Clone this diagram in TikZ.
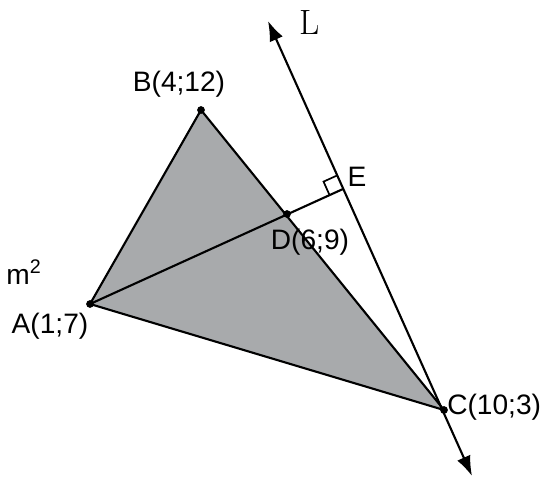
\documentclass[tikz,border=0pt]{standalone}
\usepackage{fontspec}
\setsansfont{Liberation Sans}
\usepackage{xcolor}
\usetikzlibrary{arrows.meta,calc}
\definecolor{shade}{RGB}{168,170,172}

\begin{document}
\begin{tikzpicture}[
  x=0.025cm, y=-0.025cm,
  side/.style={line width=1.5pt, draw=black, line join=round},
  axis/.style={line width=1.5pt, {Latex[length=5mm,width=3.6mm]}-{Latex[length=5mm,width=3.6mm]}},
  dot/.style={circle, fill=black, inner sep=0pt, minimum size=5.5pt},
  lbl/.style={font=\sffamily\fontsize{20}{24}\selectfont, inner sep=0pt}
]
\useasboundingbox (0,0) rectangle (544,478);
\coordinate (A) at (90,304);
\coordinate (B) at (201,110);
\coordinate (C) at (444,410);
\coordinate (D) at (287,214);
\coordinate (E) at (343,189);
\coordinate (Ltop) at (268,21);
\coordinate (Lbot) at (472,476);

\filldraw[fill=shade, side] (A) -- (B) -- (C) -- cycle;
\draw[side] (A) -- (E);
\draw[axis] (Ltop) -- (Lbot);

% right angle at E
\coordinate (E1) at ($(E)!10.5pt!(Ltop)$);
\coordinate (E2) at ($(E)!10.5pt!(A)$);
\draw[line width=1.2pt] (E1) -- ($(E1)+(E2)-(E)$) -- (E2);

\node[dot] (dA) at (A) {};
\node[dot] (dB) at (B) {};
\node[dot] (dC) at (C) {};
\node[dot] (dD) at (D) {};

\node[lbl] (labA) at (50,326) {A(1;7)};
\node[lbl] (labB) at (179,84) {B(4;12)};
\node[lbl, anchor=west] (labC) at (447,407) {C(10;3)};
\node[lbl] (labD) at (310,242) {D(6;9)};
\node[lbl] (labE) at (357,177) {E};
\node[font=\fontsize{25}{30}\selectfont, inner sep=0pt] (labL) at (310,22) {L};
\node[lbl] (area) at (24,272) {m\textsuperscript{2}};
\end{tikzpicture}
\end{document}
